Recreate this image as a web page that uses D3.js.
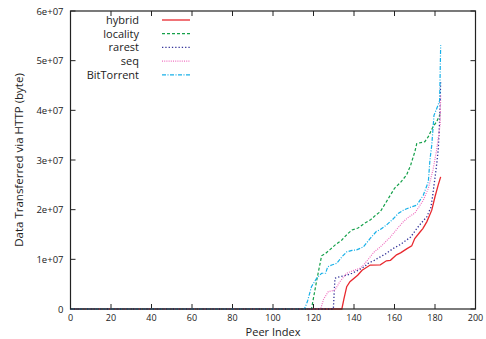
<!DOCTYPE html>
<html>
<head>
<meta charset="utf-8">
<script src="https://cdn.jsdelivr.net/npm/d3@7/dist/d3.min.js"></script>
<style>
  html, body { margin: 0; padding: 0; background: #fff; }
  svg { display: block; font-family: "Open Sans", "DejaVu Sans", sans-serif; }
</style>
</head>
<body>
<svg id="chart" width="486" height="339"></svg>
<script>
'use strict';

// peer index / value (x1e7 bytes)
const hybridX = [0, 134, 135, 136.4, 138, 141.8, 144, 148, 153, 156, 158, 161, 163, 166, 168.5, 170, 172.6, 174, 176, 178.4, 180, 181.6, 182.8];
const hybridY = [0, 0, 0.2, 0.45, 0.55, 0.68, 0.78, 0.885, 0.89, 0.97, 0.98, 1.09, 1.13, 1.21, 1.27, 1.42, 1.55, 1.62, 1.76, 1.99, 2.26, 2.5, 2.66];

const localityX = [0, 119, 121.6, 124, 126, 128, 131, 134, 137, 139, 142, 145, 148, 151, 153, 156, 160, 163, 166, 168, 170, 171, 175, 176.7, 179, 180.8, 182.5];
const localityY = [0, 0, 0.58, 1.07, 1.12, 1.19, 1.3, 1.39, 1.52, 1.59, 1.63, 1.72, 1.79, 1.9, 1.96, 2.16, 2.43, 2.55, 2.7, 2.9, 3.16, 3.33, 3.37, 3.47, 3.67, 3.77, 3.92];

const rarestX = [0, 129.8, 130.6, 133, 136.4, 139, 142, 145, 147, 150, 153, 156, 159.4, 163, 166, 168, 171, 173, 176, 178, 179, 180.5, 181.6, 182.3, 182.8];
const rarestY = [0, 0, 0.62, 0.65, 0.68, 0.72, 0.78, 0.85, 0.92, 0.98, 1.05, 1.12, 1.22, 1.3, 1.39, 1.45, 1.62, 1.72, 1.86, 2.05, 2.33, 2.8, 3.2, 3.8, 4.6];

const seqX = [0, 123.5, 125, 127.3, 130.6, 133, 136.4, 140, 143, 145, 148, 150, 153, 156, 158, 161, 164.4, 167, 170, 172, 174.2, 176.7, 179, 180.8, 181.8, 182.5, 182.8];
const seqY = [0, 0, 0.2, 0.35, 0.38, 0.55, 0.72, 0.78, 0.82, 0.9, 1.05, 1.15, 1.25, 1.37, 1.45, 1.6, 1.76, 1.85, 1.93, 2.05, 2.19, 2.43, 2.8, 3.2, 3.5, 3.7, 4.3];

const btX = [0, 115.5, 117, 119, 121.6, 124, 126, 127, 129, 131.5, 134, 136.4, 139, 141.3, 144.6, 148, 151, 153, 156, 159, 162, 164.4, 168, 171, 174.2, 176.7, 177.5, 178.4, 179.5, 181, 182.3, 182.8];
const btY = [0, 0, 0.15, 0.45, 0.62, 0.72, 0.72, 0.85, 0.885, 0.92, 1.05, 1.15, 1.18, 1.19, 1.25, 1.42, 1.56, 1.6, 1.69, 1.8, 1.93, 1.99, 2.05, 2.09, 2.29, 2.56, 3.0, 3.3, 3.9, 4.05, 4.2, 5.31];

const xTicks = [0, 20, 40, 60, 80, 100, 120, 140, 160, 180, 200];
const yTicks = [0, 1e7, 2e7, 3e7, 4e7, 5e7, 6e7];
const yTickLabels = ['0', '1e+07', '2e+07', '3e+07', '4e+07', '5e+07', '6e+07'];

const series = [
  { name: 'hybrid',     xs: hybridX,   ys: hybridY,   color: '#e8282e', dash: null,          w: 1.3 },
  { name: 'locality',   xs: localityX, ys: localityY, color: '#14a04a', dash: '3,2',         w: 1.2 },
  { name: 'rarest',     xs: rarestX,   ys: rarestY,   color: '#34349a', dash: '1.3,2',       w: 1.3 },
  { name: 'seq',        xs: seqX,      ys: seqY,      color: '#f070c0', dash: '1,1.2',       w: 1.2 },
  { name: 'BitTorrent', xs: btX,       ys: btY,       color: '#18b0e8', dash: '4,1.5,1,1.5', w: 1.2 },
];

const svg = d3.select('#chart');
const L = 70.5, R = 475.5, T = 11, B = 309;

const x = d3.scaleLinear().domain([0, 200]).range([L, R]);
const y = d3.scaleLinear().domain([0, 6e7]).range([B, T]);

// ticks, inward, mirrored on top / right
const tk = 5;
const g = svg.append('g').attr('stroke', '#222').attr('stroke-width', 1);
xTicks.forEach(v => {
  g.append('line').attr('x1', x(v)).attr('x2', x(v)).attr('y1', B).attr('y2', B - tk);
  g.append('line').attr('x1', x(v)).attr('x2', x(v)).attr('y1', T).attr('y2', T + tk);
});
yTicks.forEach(v => {
  g.append('line').attr('x1', L).attr('x2', L + tk).attr('y1', y(v)).attr('y2', y(v));
  g.append('line').attr('x1', R).attr('x2', R - tk).attr('y1', y(v)).attr('y2', y(v));
});

svg.append('g').selectAll('text').data(xTicks).join('text')
  .attr('x', d => x(d)).attr('y', B + 11.5)
  .attr('text-anchor', 'middle').attr('font-size', 9).attr('fill', '#222')
  .text(d => d);

svg.append('g').selectAll('text').data(yTicks).join('text')
  .attr('x', L - 7).attr('y', d => y(d) + 3.5)
  .attr('text-anchor', 'end').attr('font-size', 9.5).attr('fill', '#222')
  .text((d, i) => yTickLabels[i]);

svg.append('text').attr('x', 273).attr('y', 336)
  .attr('text-anchor', 'middle').attr('font-size', 11).attr('fill', '#222')
  .text('Peer Index');

svg.append('text').attr('transform', 'translate(23,160) rotate(-90)')
  .attr('text-anchor', 'middle').attr('font-size', 11.5).attr('fill', '#222')
  .text('Data Transferred via HTTP (byte)');

// curves
const line = d3.line().x(d => x(d[0])).y(d => y(d[1] * 1e7));
series.forEach(s => {
  svg.append('path')
    .datum(s.xs.map((v, i) => [v, s.ys[i]]))
    .attr('d', line)
    .attr('fill', 'none')
    .attr('stroke', s.color)
    .attr('stroke-width', s.w)
    .attr('stroke-dasharray', s.dash);
});

// legend
series.forEach((s, i) => {
  const ly = 20 + i * 13.7;
  svg.append('text').attr('x', 139).attr('y', ly + 4)
    .attr('text-anchor', 'end').attr('font-size', 11).attr('fill', '#222')
    .text(s.name);
  svg.append('line').attr('x1', 162).attr('x2', 190).attr('y1', ly).attr('y2', ly)
    .attr('stroke', s.color).attr('stroke-width', s.w).attr('stroke-dasharray', s.dash);
});

// frame
svg.append('rect').attr('x', L).attr('y', T).attr('width', R - L).attr('height', B - T)
  .attr('fill', 'none').attr('stroke', '#222').attr('stroke-width', 1.2);
</script>
</body>
</html>
